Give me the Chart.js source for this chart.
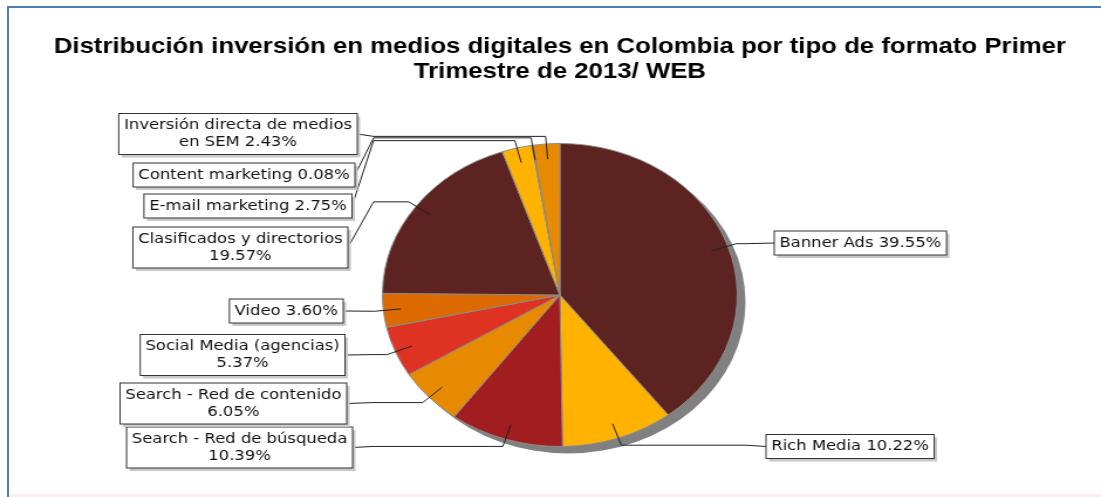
<!DOCTYPE html>
<html>
<head>
<meta charset="utf-8">
<title>Inversión en medios digitales - Colombia 1T 2013</title>
<script src="https://cdn.jsdelivr.net/npm/chart.js@4.4.1/dist/chart.umd.min.js"></script>
<style>
  html, body { margin: 0; padding: 0; background: #fff; }
  #wrap { position: relative; width: 1101px; height: 497px; overflow: hidden; }
  #ratesPie { position: absolute; left: 0; top: 0; }
  .frame-top { position: absolute; left: 7px; top: 6px; right: 0; height: 2px; background: #4a7ebb; }
  .frame-left { position: absolute; left: 7px; top: 6px; bottom: 0; width: 2px; background: #4a7ebb; }
  .strip { position: absolute; left: 9px; right: 0; top: 494px; bottom: 0; background: #fbeeee; }
</style>
</head>
<body>
<div id="wrap">
  <!-- drawn narrow and widened by CSS, the same way the original export was -->
  <canvas id="ratesPie" width="940" height="497" style="width:1101px;height:497px"></canvas>
  <div class="frame-top"></div>
  <div class="frame-left"></div>
  <div class="strip"></div>
</div>
<script>
const titleLines = [
  'Distribución inversión en medios digitales en Colombia por tipo de formato Primer',
  'Trimestre de 2013/ WEB'
];

const categories = [
  'Banner Ads',
  'Rich Media',
  'Search - Red de búsqueda',
  'Search - Red de contenido',
  'Social Media (agencias)',
  'Video',
  'Clasificados y directorios',
  'E-mail marketing',
  'Content marketing',
  'Inversión directa de medios en SEM'
];

const shares = [39.55, 10.22, 10.39, 6.05, 5.37, 3.60, 19.57, 2.75, 0.08, 2.43];

// palette repeats every six slices
const palette = ['#5c2320', '#ffb300', '#a11d20', '#e88a00', '#de3223', '#dc6a00'];

// callout boxes: which side of the pie, x of the edge facing the pie, centre y
const calloutSpots = [
  { side: 'right', x: 661, y: 243 },
  { side: 'right', x: 654, y: 446.5 },
  { side: 'left', x: 301, y: 447.5 },
  { side: 'left', x: 296, y: 403.5 },
  { side: 'left', x: 294.5, y: 355 },
  { side: 'left', x: 293, y: 311 },
  { side: 'left', x: 297, y: 247.5 },
  { side: 'left', x: 300.5, y: 206 },
  { side: 'left', x: 303, y: 175 },
  { side: 'left', x: 305, y: 134 }
];

const LABEL_FONT = '14px "DejaVu Sans", sans-serif';
const LINE_H = 17;
const PAD_X = 4.5;
const PAD_Y = 3.5;
const WRAP_AT = 203;

function labelText(i) {
  return `${categories[i]} ${shares[i].toFixed(2)}%`;
}

function wrapLabel(ctx, text, maxWidth) {
  const words = text.split(' ');
  const lines = [];
  let current = '';
  words.forEach(word => {
    const trial = current ? current + ' ' + word : word;
    if (current && ctx.measureText(trial).width > maxWidth) {
      lines.push(current);
      current = word;
    } else {
      current = trial;
    }
  });
  if (current) lines.push(current);
  return lines;
}

// gray drop shadow behind the pie
const pieShadow = {
  id: 'pieShadow',
  beforeDatasetsDraw(chart) {
    const arc = chart.getDatasetMeta(0).data[0];
    if (!arc) return;
    const { x, y, outerRadius } = arc.getProps(['x', 'y', 'outerRadius'], true);
    const ctx = chart.ctx;
    ctx.save();
    ctx.fillStyle = '#808080';
    ctx.beginPath();
    ctx.arc(x + 7, y + 7, outerRadius, 0, Math.PI * 2);
    ctx.fill();
    ctx.restore();
  }
};

// boxed labels with leader lines
const callouts = {
  id: 'callouts',
  afterDatasetsDraw(chart) {
    const ctx = chart.ctx;
    const meta = chart.getDatasetMeta(0);
    ctx.save();
    ctx.font = LABEL_FONT;
    meta.data.forEach((arc, i) => {
      const { x, y, startAngle, endAngle, outerRadius } =
        arc.getProps(['x', 'y', 'startAngle', 'endAngle', 'outerRadius'], true);
      const mid = (startAngle + endAngle) / 2;
      const cos = Math.cos(mid);
      const sin = Math.sin(mid);
      const ax = x + cos * outerRadius * 0.9;
      const ay = y + sin * outerRadius * 0.9;
      const lx = x + cos * outerRadius * 1.05;
      const ly = y + sin * outerRadius * 1.05;
      const spot = calloutSpots[i];
      const stemX = x + (spot.side === 'right' ? 1 : -1) * outerRadius * 1.05;

      const lines = wrapLabel(ctx, labelText(i), WRAP_AT);
      const w = Math.max(...lines.map(l => ctx.measureText(l).width)) + PAD_X * 2;
      const h = lines.length * LINE_H + PAD_Y * 2;
      const bx = spot.side === 'right' ? spot.x : spot.x - w;
      const by = spot.y - h / 2;

      ctx.strokeStyle = '#222';
      ctx.lineWidth = 1;
      ctx.beginPath();
      ctx.moveTo(ax, ay);
      ctx.lineTo(lx, ly);
      ctx.lineTo(stemX, ly);
      ctx.lineTo(spot.x, spot.y);
      ctx.stroke();

      ctx.fillStyle = '#c8c8c8';
      ctx.fillRect(bx + 2.5, by + 3, w, h);
      ctx.fillStyle = '#fff';
      ctx.fillRect(bx, by, w, h);
      ctx.strokeStyle = '#333';
      ctx.strokeRect(bx, by, w, h);

      ctx.fillStyle = '#111';
      ctx.textAlign = 'center';
      ctx.textBaseline = 'middle';
      lines.forEach((t, k) => {
        ctx.fillText(t, bx + w / 2, by + PAD_Y + LINE_H * (k + 0.5));
      });
    });
    ctx.restore();
  }
};

const ctx = document.getElementById('ratesPie').getContext('2d');
new Chart(ctx, {
  type: 'pie',
  data: {
    labels: categories,
    datasets: [{
      data: shares,
      backgroundColor: categories.map((_, i) => palette[i % palette.length]),
      borderColor: '#8c8c8c',
      borderWidth: 1,
      clip: false
    }]
  },
  options: {
    responsive: false,
    animation: false,
    events: [],
    layout: {
      padding: { left: 16, right: 0, top: 0, bottom: 50 }
    },
    plugins: {
      legend: { display: false },
      tooltip: { enabled: false },
      title: {
        display: true,
        text: titleLines,
        color: '#000',
        font: { family: '"Liberation Sans", Arial, sans-serif', size: 22, weight: 'bold', lineHeight: 1.15 },
        padding: { top: 34.35, bottom: 58.05 }
      }
    }
  },
  plugins: [pieShadow, callouts]
});
</script>
</body>
</html>
